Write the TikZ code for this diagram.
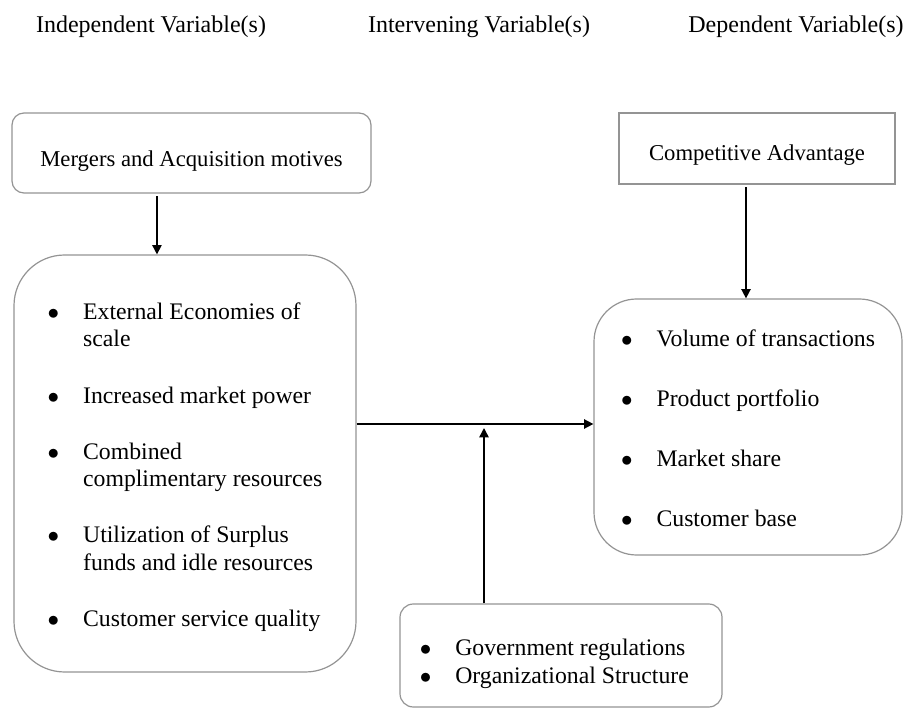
\documentclass[tikz,border=0pt]{standalone}
\usepackage{fontspec}
\setmainfont{Liberation Serif}
\usetikzlibrary{positioning}
\usetikzlibrary{arrows.meta}

% move a node's text down without changing its size
\newcommand{\lowered}[2]{\raisebox{-#1}[\height][\depth]{#2}}
\newcommand{\dotmark}{$\bullet$}

\begin{document}
\begin{tikzpicture}[x=0.75pt, y=-0.75pt,
>={Triangle[length=7pt, width=7pt]},
every node/.style = {font = \fontsize{17}{20.4}\selectfont},
heading/.style = {inner sep = 0pt, anchor = base, font = \fontsize{18}{21.6}\selectfont},
factor/.style = {shape = rectangle, draw = black!42, line width = 0.9pt, rounded corners = 9pt, inner sep = 0pt},
group/.style = {shape = rectangle, draw = black!42, line width = 0.9pt, inner sep = 0pt},
items/.style = {font = \fontsize{17.8}{20.6}\selectfont},
link/.style = {->, line width = 1.1pt},
]
\useasboundingbox (0, 0) rectangle (903, 709);

\node[heading] (indep) at (151, 33) {Independent Variable(s)};
\node[heading] (interv) at (479, 33) {Intervening Variable(s)};
\node[heading] (dep) at (796, 33) {Dependent Variable(s)};

\node[factor, minimum width = 269.25pt, minimum height = 60pt] (mna) at (191.5, 153) {\lowered{6pt}{Mergers and Acquisition motives}};
\node[group, minimum width = 207pt, minimum height = 53.25pt] (comp) at (757, 148.5) {\lowered{5pt}{Competitive Advantage}};

\node[factor, items, rounded corners = 38pt, minimum width = 256.5pt, minimum height = 312.75pt] (motives) at (185, 463.5) {\lowered{3pt}{%
\begin{tabular}{@{}l@{\hspace{18pt}}l@{}}
\dotmark & External Economies of\\
 & scale\\[21.5pt]
\dotmark & Increased market power\\[21.5pt]
\dotmark & Combined\\
 & complimentary resources\\[21.5pt]
\dotmark & Utilization of Surplus\\
 & funds and idle resources\\[21.5pt]
\dotmark & Customer service quality
\end{tabular}}};

\node[factor, items, rounded corners = 32pt, minimum width = 231pt, minimum height = 192pt] (outcome) at (748, 427) {\lowered{3pt}{%
\begin{tabular}{@{}l@{\hspace{18pt}}l@{}}
\dotmark & Volume of transactions\\[24.2pt]
\dotmark & Product portfolio\\[24.2pt]
\dotmark & Market share\\[24.2pt]
\dotmark & Customer base
\end{tabular}}};

\node[factor, items, rounded corners = 10pt, minimum width = 241.5pt, minimum height = 77.25pt] (inter) at (561, 655.5) {\lowered{6.5pt}{%
\begin{tabular}{@{}l@{\hspace{18pt}}l@{}}
\dotmark & Government regulations\\
\dotmark & Organizational Structure
\end{tabular}}\kern10pt};

\coordinate (meet) at (484, 424);

\path[link] ([xshift = -25.9pt, yshift = -2pt]mna.south) edge ([xshift = -25.9pt]mna.south |- motives.north);
\path[link] ([xshift = -8.25pt, yshift = -2pt]comp.south) edge ([xshift = -8.25pt]comp.south |- outcome.north);
\path[link] (motives.east |- meet) edge (meet -| outcome.west);
\path[link] (inter.north -| meet) edge ([yshift = -3pt]meet);
\end{tikzpicture}
\end{document}
